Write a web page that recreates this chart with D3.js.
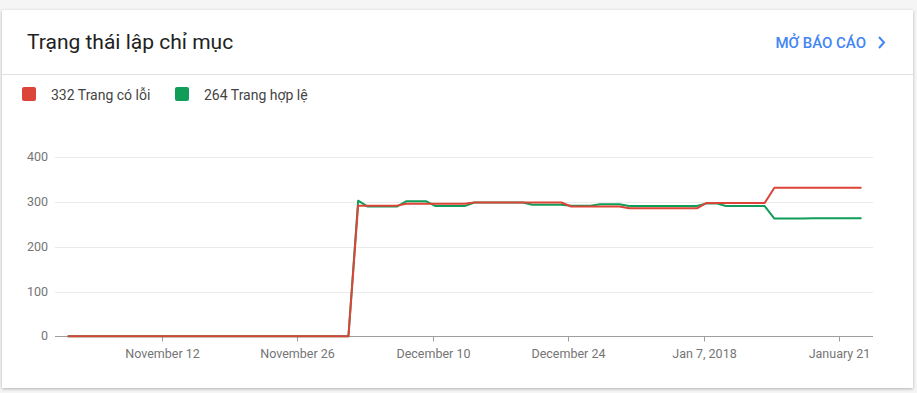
<!DOCTYPE html>
<html>
<head>
<meta charset="utf-8">
<script src="https://cdnjs.cloudflare.com/ajax/libs/d3/7.8.5/d3.min.js"></script>
<style>
  html, body { margin: 0; padding: 0; background: #f5f5f5; }
  body { width: 917px; height: 393px; overflow: hidden; font-family: Roboto, "Noto Sans", sans-serif; }
  #card { position: absolute; left: 2px; top: 10px; width: 911px; height: 378px; background: #fff;
          box-shadow: 0 1px 3px rgba(0,0,0,0.28); }
  svg { position: absolute; left: 0; top: 0; }
</style>
</head>
<body>
<div id="card"></div>
<svg id="chart" width="917" height="393"></svg>
<script>
// chart data, one value per day starting at startDate
var startDate = "2017-11-02T07:00";
var seriesNames = ["332 Trang có lỗi", "264 Trang hợp lệ"];
var seriesColors = ["#db4437", "#0f9d58"];
var errorPages = [
  0,0,0,0,0,0,0,0,0,0, 0,0,0,0,0,0,0,0,0,0, 0,0,0,0,0,0,0,0,0,0,
  292,292,292,292,292, 296,296,296,296,296,296,296,
  299,299,299,299,299,299,299,299,299,299,
  290,290,290,290,290,290,
  286,286,286,286,286,286,286,286,
  298,298,298,298,298,298,298,
  332,332,332,332,332,332,332,332,332,332
];
var validPages = [
  0,0,0,0,0,0,0,0,0,0, 0,0,0,0,0,0,0,0,0,0, 0,0,0,0,0,0,0,0,0,0,
  303,290,290,290,290, 302,302,302, 291,291,291,291,
  299,299,299,299,299,299,
  294,294,294,294, 292,292,292, 295,295,295,
  291,291,291,291,291,291,291,291,
  297,297, 291,291,291,291,291,
  263,263,263,263, 264,264,264,264,264,264
];
var tickDates = ["2017-11-12", "2017-11-26", "2017-12-10", "2017-12-24", "2018-01-07", "2018-01-21"];
var tickLabels = ["November 12", "November 26", "December 10", "December 24", "Jan 7, 2018", "January 21"];
var yTicks = [0, 100, 200, 300, 400];

var parseTime = d3.utcParse("%Y-%m-%dT%H:%M");
var parseDay = d3.utcParse("%Y-%m-%d");
var t0 = parseTime(startDate);
var dates = errorPages.map(function(v, i){ return d3.utcDay.offset(t0, i); });

var svg = d3.select("#chart");

// header
svg.append("text").attr("x", 27).attr("y", 49)
  .attr("font-size", 21).attr("fill", "#212121")
  .text("Trạng thái lập chỉ mục");
svg.append("text").attr("x", 866).attr("y", 48).attr("text-anchor", "end")
  .attr("font-size", 15).attr("font-weight", 500).attr("fill", "#4285f4")
  .text("MỞ BÁO CÁO");
svg.append("path").attr("d", "M879,37 L884,42.5 L879,48")
  .attr("fill", "none").attr("stroke", "#4285f4").attr("stroke-width", 2);
svg.append("line").attr("x1", 2).attr("x2", 913).attr("y1", 74.5).attr("y2", 74.5)
  .attr("stroke", "#e0e0e0");

// legend
var legendX = [22, 175];
seriesNames.forEach(function(name, i){
  svg.append("rect").attr("x", legendX[i]).attr("y", 87).attr("width", 14).attr("height", 14)
    .attr("rx", 2).attr("fill", seriesColors[i]);
  svg.append("text").attr("x", legendX[i] + 29).attr("y", 100)
    .attr("font-size", 14).attr("fill", "#444").text(name);
});

// scales
var x = d3.scaleUtc().domain([dates[0], dates[dates.length - 1]]).range([67.7, 861.5]);
var y = d3.scaleLinear().domain([0, 400]).range([336.3, 157.3]);
var plotLeft = 55, plotRight = 873;

// grid
svg.append("g").selectAll("line").data(yTicks.filter(function(d){ return d > 0; })).enter()
  .append("line")
  .attr("x1", plotLeft).attr("x2", plotRight)
  .attr("y1", function(d){ return Math.round(y(d)) + 0.5; })
  .attr("y2", function(d){ return Math.round(y(d)) + 0.5; })
  .attr("stroke", "#ebebeb");

svg.append("g").selectAll("text").data(yTicks).enter()
  .append("text")
  .attr("x", 48).attr("y", function(d){ return y(d) + 4; })
  .attr("text-anchor", "end").attr("font-size", 12.5).attr("fill", "#757575")
  .text(function(d){ return d; });

// x axis
var xAxis = svg.append("g").attr("transform", "translate(0," + (Math.round(y(0)) + 0.5) + ")");
xAxis.append("line").attr("x1", plotLeft).attr("x2", plotRight).attr("stroke", "#9e9e9e");
var ticks = xAxis.selectAll(".tick").data(tickDates).enter().append("g")
  .attr("transform", function(d){ return "translate(" + (Math.round(x(parseDay(d))) + 0.5) + ",0)"; });
ticks.append("line").attr("y1", 0).attr("y2", 5).attr("stroke", "#9e9e9e");
ticks.append("text").attr("y", 21).attr("text-anchor", "middle")
  .attr("font-size", 12.5).attr("fill", "#757575")
  .text(function(d, i){ return tickLabels[i]; });

// lines, green under red
var line = d3.line()
  .x(function(d, i){ return x(dates[i]); })
  .y(function(d){ return y(d); });
[validPages, errorPages].forEach(function(values, k){
  svg.append("path").datum(values)
    .attr("d", line)
    .attr("fill", "none")
    .attr("stroke", k === 0 ? seriesColors[1] : seriesColors[0])
    .attr("stroke-width", 2)
    .attr("stroke-linejoin", "round");
});
</script>
</body>
</html>
